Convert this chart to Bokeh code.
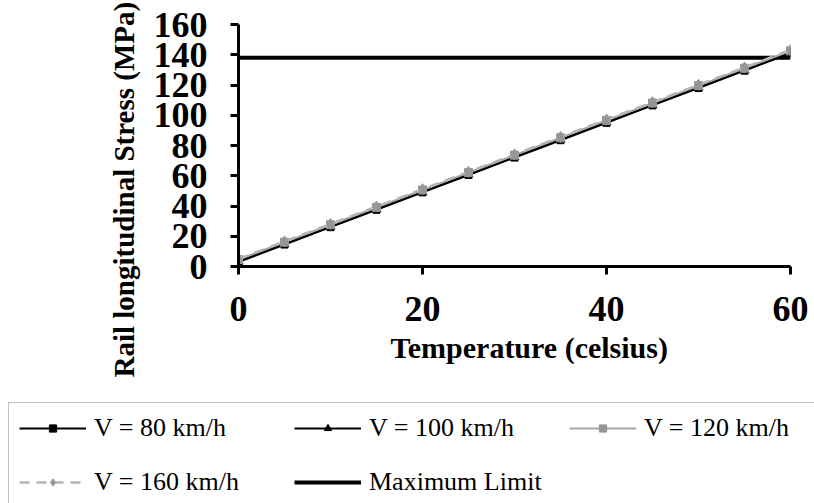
from bokeh.plotting import figure
from bokeh.models import Legend, LegendItem, Title, Range1d, FixedTicker
from bokeh.embed import file_html
from bokeh.resources import INLINE

temps = [0, 5, 10, 15, 20, 25, 30, 35, 40, 45, 50, 55, 60]
v80 = [3.0, 14.5, 26.0, 37.5, 49.0, 60.5, 72.0, 83.5, 95.0, 106.5, 118.0, 129.5, 141.0]
v100 = [3.4, 14.9, 26.4, 37.9, 49.4, 60.9, 72.4, 83.9, 95.4, 106.9, 118.4, 129.9, 141.4]
v120 = [4.6, 16.1, 27.6, 39.1, 50.6, 62.1, 73.6, 85.1, 96.6, 108.1, 119.6, 131.1, 142.6]
v160 = [5.0, 16.6, 28.1, 39.6, 51.1, 62.6, 74.1, 85.6, 97.1, 108.6, 120.1, 131.6, 143.2]
limit_x = [0, 60]
limit_y = [138, 138]
x_ticks = [0, 20, 40, 60]
y_ticks = [0, 20, 40, 60, 80, 100, 120, 140, 160]
labels = ["V = 80 km/h", "V = 100 km/h", "V = 120 km/h", "V = 160 km/h", "Maximum Limit"]

FONT = "Liberation Serif"
GRAY_M = "#969696"
GRAY_L = "#A6A6A6"
GRAY_D = "#B4B4B4"


def add_series(fig):
    lim = fig.line(limit_x, limit_y, line_color="black", line_width=4)
    l80 = fig.line(temps, v80, line_color="black", line_width=2)
    m80 = fig.scatter(temps, v80, marker="square", size=7, color="black")
    l100 = fig.line(temps, v100, line_color="black", line_width=2)
    m100 = fig.scatter(temps, v100, marker="triangle", size=9, color="black")
    l120 = fig.line(temps, v120, line_color=GRAY_L, line_width=2)
    m120 = fig.scatter(temps, v120, marker="square", size=8, color=GRAY_M)
    l160 = fig.line(temps, v160, line_color=GRAY_D, line_width=2.5, line_dash="10 7")
    m160 = fig.scatter(temps, v160, marker="diamond", size=11, color=GRAY_M)
    return [[l80, m80], [l100, m100], [l120, m120], [l160, m160], [lim]]


# ---- main chart ----
p = figure(width=814, height=400, output_backend="svg", toolbar_location=None,
           x_range=Range1d(0, 60), y_range=Range1d(0, 160),
           min_border_left=238, min_border_right=24, min_border_top=24,
           min_border_bottom=134)
p.outline_line_color = None
p.grid.visible = False
p.background_fill_color = "white"
p.border_fill_color = "white"

p.xaxis.ticker = FixedTicker(ticks=x_ticks)
p.yaxis.ticker = FixedTicker(ticks=y_ticks)
for ax in (p.xaxis, p.yaxis):
    ax.axis_line_width = 3
    ax.axis_line_color = "black"
    ax.major_tick_line_width = 3
    ax.major_tick_line_color = "black"
    ax.major_tick_out = 8
    ax.major_tick_in = 0
    ax.minor_tick_line_color = None
    ax.major_label_text_font = FONT
    ax.major_label_text_font_style = "bold"
    ax.major_label_text_font_size = "36px"
    ax.major_label_text_color = "black"
p.yaxis.major_label_standoff = 23
p.xaxis.major_label_standoff = 22

ty = Title(text="Rail longitudinal Stress (MPa)", align="left", offset=-111,
           standoff=22,
           text_font=FONT, text_font_style="bold", text_font_size="29px",
           text_color="black")
p.add_layout(ty, "left")
tx = Title(text="Temperature (celsius)", align="left", offset=152,
           text_font=FONT, text_font_style="bold", text_font_size="30px",
           text_color="black")
p.add_layout(tx, "below")

add_series(p)

# ---- legend panel (separate root so its frame spans the full width) ----
q = figure(width=814, height=103, output_backend="svg", toolbar_location=None,
           x_range=Range1d(-200, -100), y_range=Range1d(-200, -100),
           x_axis_type=None, y_axis_type=None, min_border=0)
q.outline_line_color = None
q.grid.visible = False
q.background_fill_color = "white"
q.border_fill_color = "white"
groups = add_series(q)
items = [LegendItem(label=lab, renderers=g) for lab, g in zip(labels, groups)]
# column-major fill with two rows -> rows read: 80, 100, 120 / 160, Maximum Limit
ordered = [items[0], items[3], items[1], items[4], items[2]]

legend = Legend(items=ordered, nrows=2, location=(8, -5))
legend.label_text_font = FONT
legend.label_text_font_size = "26px"
legend.label_text_color = "black"
legend.glyph_width = 67
legend.glyph_height = 18
legend.label_height = 30
legend.label_width = 176
legend.label_standoff = 8
legend.spacing = 24
legend.padding = 10
legend.margin = 0
legend.border_line_color = "#808080"
legend.border_line_width = 1
legend.background_fill_color = "white"
legend.background_fill_alpha = 1.0
q.add_layout(legend)

open("out.html", "w").write(file_html([p, q], INLINE))
